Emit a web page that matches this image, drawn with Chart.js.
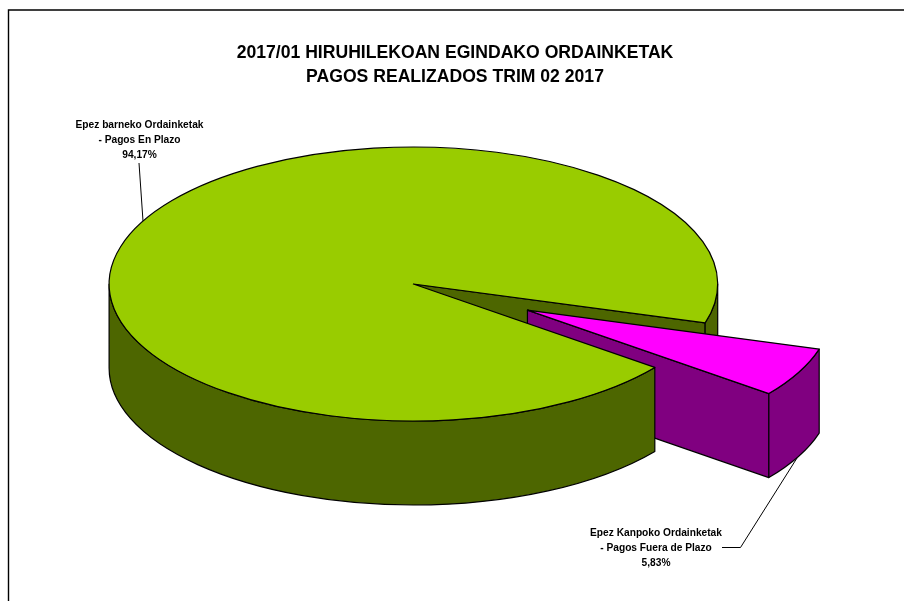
<!DOCTYPE html>
<html>
<head>
<meta charset="utf-8">
<title>Pagos realizados</title>
<script src="https://cdn.jsdelivr.net/npm/chart.js@4"></script>
<style>
  html, body { margin: 0; padding: 0; background: #fff; overflow: hidden; }
  canvas { display: block; }
</style>
</head>
<body>
<canvas id="pieChart" width="904" height="601"></canvas>
<script>
// 3D exploded pie: Chart.js draws the two top faces, squashed by a plugin,
// the plugin adds the side walls, outlines and labels from the same arcs

const titleLines = ["2017/01 HIRUHILEKOAN EGINDAKO ORDAINKETAK", "PAGOS REALIZADOS TRIM 02 2017"];
const categories = [
  ["Epez barneko Ordainketak", "- Pagos En Plazo"],
  ["Epez Kanpoko Ordainketak", "- Pagos Fuera de Plazo"]
];
const values = [94.17, 5.83];
const topColors = ["#99cc00", "#ff00ff"];
const wallColors = ["#4d6600", "#800080"];

const pieX = 413.4, pieY = 284, pieR = 304.3;
const squash = 137 / 304.3;
const depth = 84;
const explode = 128;
const firstAngle = 127.5; // degrees clockwise from the top

const labelPos = [{ x: 139.5, y: 125.5 }, { x: 656, y: 533.5 }];
const leaders = [
  [[139, 163], [143, 221]],
  [[722, 547.5], [740.5, 547.5], [797, 458]]
];

function ellipseArc(ctx, cx, cy, r, a0, a1, ccw) {
  ctx.ellipse(cx, cy, r, r * squash, 0, a0, a1, !!ccw);
}

// where an arc element ends up on screen once it is flattened
function onScreen(arc) {
  return {
    x: arc.x,
    y: pieY + (arc.y - pieY) * squash,
    r: arc.outerRadius,
    startAngle: arc.startAngle,
    endAngle: arc.endAngle
  };
}

function paint(ctx, fill) {
  ctx.fillStyle = fill;
  ctx.fill();
  ctx.strokeStyle = "#000";
  ctx.lineWidth = 1.2;
  ctx.stroke();
}

// curved outer wall between two angles
function curvedWall(ctx, s, a0, a1, fill) {
  ctx.beginPath();
  ellipseArc(ctx, s.x, s.y, s.r, a0, a1);
  ellipseArc(ctx, s.x, s.y + depth, s.r, a1, a0, true);
  ctx.closePath();
  paint(ctx, fill);
}

// flat wall under a radial edge
function radialWall(ctx, s, a, fill) {
  const px = s.x + s.r * Math.cos(a);
  const py = s.y + s.r * squash * Math.sin(a);
  ctx.beginPath();
  ctx.moveTo(s.x, s.y);
  ctx.lineTo(px, py);
  ctx.lineTo(px, py + depth);
  ctx.lineTo(s.x, s.y + depth);
  ctx.closePath();
  paint(ctx, fill);
}

function topOutline(ctx, s) {
  ctx.beginPath();
  ctx.moveTo(s.x, s.y);
  ellipseArc(ctx, s.x, s.y, s.r, s.startAngle, s.endAngle);
  ctx.closePath();
  ctx.strokeStyle = "#000";
  ctx.lineWidth = 1.2;
  ctx.stroke();
}

const pie3d = {
  id: "pie3d",
  beforeDraw(chart) {
    // frame of the original sheet, it runs off the right and the bottom
    const ctx = chart.ctx;
    ctx.save();
    ctx.strokeStyle = "#000";
    ctx.lineWidth = 1.4;
    ctx.beginPath();
    ctx.moveTo(8.5, 601);
    ctx.lineTo(8.5, 10);
    ctx.lineTo(904, 10);
    ctx.stroke();
    ctx.restore();
  },
  afterDatasetUpdate(chart) {
    const [main, slice] = chart.getDatasetMeta(0).data;
    const mid = (slice.startAngle + slice.endAngle) / 2;
    main.x = pieX;
    main.y = pieY;
    slice.x = pieX + explode * Math.cos(mid);
    slice.y = pieY + explode * Math.sin(mid);
  },
  beforeDatasetsDraw(chart) {
    const ctx = chart.ctx;
    const [mainArc, sliceArc] = chart.getDatasetMeta(0).data;
    const main = onScreen(mainArc);
    const slice = onScreen(sliceArc);
    const TAU = Math.PI * 2;
    const cut0 = slice.startAngle - TAU; // upper edge of the gap
    const cut1 = slice.endAngle - TAU;   // lower edge of the gap

    ctx.save();
    ctx.lineJoin = "round";
    radialWall(ctx, main, cut0, wallColors[0]);
    curvedWall(ctx, main, 0, cut0, wallColors[0]);
    radialWall(ctx, slice, cut1, wallColors[1]);
    curvedWall(ctx, slice, cut0, cut1, wallColors[1]);
    curvedWall(ctx, main, cut1, Math.PI, wallColors[0]);
    ctx.restore();

    // the library's arcs are circles, flatten them onto the ellipse
    ctx.save();
    ctx.translate(0, pieY);
    ctx.scale(1, squash);
    ctx.translate(0, -pieY);
  },
  afterDatasetsDraw(chart) {
    const ctx = chart.ctx;
    ctx.restore();
    ctx.save();
    ctx.lineJoin = "round";
    chart.getDatasetMeta(0).data.forEach(arc => topOutline(ctx, onScreen(arc)));

    ctx.strokeStyle = "#000";
    ctx.lineWidth = 1;
    leaders.forEach(line => {
      ctx.beginPath();
      line.forEach((p, i) => (i ? ctx.lineTo(p[0], p[1]) : ctx.moveTo(p[0], p[1])));
      ctx.stroke();
    });

    ctx.fillStyle = "#000";
    ctx.font = "bold 10.2px 'Liberation Sans'";
    ctx.textAlign = "center";
    ctx.textBaseline = "middle";
    categories.forEach((lines, i) => {
      const text = [...lines, values[i].toFixed(2).replace(".", ",") + "%"];
      text.forEach((t, j) => ctx.fillText(t, labelPos[i].x, labelPos[i].y + j * 14.7));
    });
    ctx.restore();
  }
};

new Chart(document.getElementById("pieChart"), {
  type: "pie",
  data: {
    labels: categories.map(c => c.join(" ")),
    datasets: [{
      data: values,
      backgroundColor: topColors,
      borderWidth: 0,
      clip: false
    }]
  },
  options: {
    responsive: false,
    animation: false,
    events: [],
    radius: pieR,
    rotation: firstAngle,
    layout: { padding: { left: 6 } },
    plugins: {
      legend: { display: false },
      tooltip: { enabled: false },
      title: {
        display: true,
        text: titleLines,
        color: "#000",
        font: { family: "'Liberation Sans'", size: 17.6, weight: "bold", lineHeight: 1.36 },
        padding: { top: 41.5, bottom: 10 }
      }
    }
  },
  plugins: [pie3d]
});
</script>
</body>
</html>
